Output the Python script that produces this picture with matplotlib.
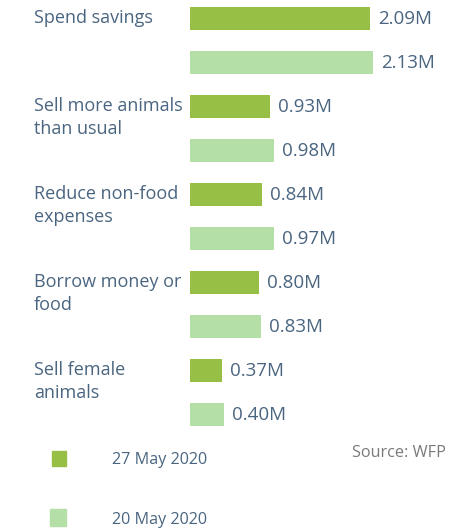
import matplotlib.pyplot as plt
from matplotlib.patches import Rectangle
from matplotlib.transforms import blended_transform_factory

# strategies and values (millions of households)
categories = ["Spend savings", "Sell more animals\nthan usual", "Reduce non-food\nexpenses",
              "Borrow money or\nfood", "Sell female\nanimals"]
may27 = [2.09, 0.93, 0.84, 0.80, 0.37]
may20 = [2.13, 0.98, 0.97, 0.83, 0.40]
series_labels = ["27 May 2020", "20 May 2020"]

dark_green = "#98bf45"
light_green = "#b4e0a8"
text_col = "#4a6580"
font = "Open Sans"

W, H = 449, 528
fig = plt.figure(figsize=(W / 100, H / 100), dpi=100)

# axes: bars start at x=190px, 86.1 px per million; groups every 88 px
left_px = 190
ax = fig.add_axes([left_px / W, 0, (W - left_px) / W, 1])
px_per_m = 86.1
ax.set_xlim(0, (W - left_px) / px_per_m)
ax.set_ylim((H - 18.5) / 88, -18.5 / 88)
ax.axis("off")

bh = 23 / 88
pos = list(range(len(categories)))
ax.barh([p for p in pos], may27, height=bh, color=dark_green)
ax.barh([p + 0.5 for p in pos], may20, height=bh, color=light_green)

for p, a, b in zip(pos, may27, may20):
    ax.text(a + 8 / px_per_m, p, f"{a:.2f}M", va="center", ha="left",
            fontsize=13.5, color=text_col, family=font)
    ax.text(b + 8 / px_per_m, p + 0.5, f"{b:.2f}M", va="center", ha="left",
            fontsize=13.5, color=text_col, family=font)

tr = blended_transform_factory(fig.transFigure, ax.transData)
for p, c in zip(pos, categories):
    ax.text(34 / W, p - bh / 2 + 0.028, c, transform=tr, va="top", ha="left",
            fontsize=13, color=text_col, family=font, linespacing=1.32)

# legend
leg = [(52, 451, 14, 15, dark_green, 460), (50, 509, 16, 17, light_green, 520)]
for (x, y, w, h, col, ty), lab in zip(leg, series_labels):
    fig.patches.append(Rectangle((x / W, 1 - (y + h) / H), w / W, h / H,
                                 transform=fig.transFigure, color=col))
    fig.text(112 / W, 1 - ty / H, lab, va="center", ha="left",
             fontsize=11.6, color=text_col, family=font)

fig.text(446 / W, 1 - 453 / H, "Source: WFP", va="center", ha="right",
         fontsize=11.7, color="#7a7a7a", family=font)

fig.savefig("out.png", dpi=100)
